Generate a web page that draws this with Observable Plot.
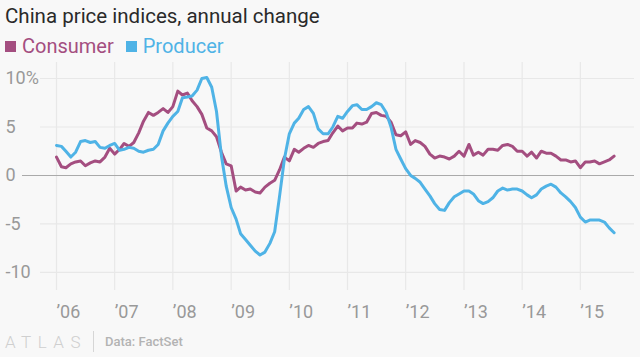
<!DOCTYPE html>
<html><head><meta charset="utf-8">
<script src="https://cdn.jsdelivr.net/npm/d3@7"></script>
<script src="https://cdn.jsdelivr.net/npm/@observablehq/plot@0.6"></script>
<style>
html,body{margin:0;padding:0;background:#f8f8f8;}
body{width:640px;height:357px;overflow:hidden;position:relative;font-family:Roboto,"Liberation Sans",sans-serif;}
#title{position:absolute;left:5px;top:4px;font-size:20.5px;color:#2a2a2a;white-space:nowrap;}
#legend{position:absolute;left:5px;top:34px;font-size:20px;white-space:nowrap;}
#legend span.item{margin-right:12px;}
#legend span.sw{display:inline-block;width:11px;height:11px;margin-right:6px;vertical-align:1px;}
#chart{position:absolute;left:0;top:58px;}
#footer{position:absolute;left:5px;top:331px;white-space:nowrap;}
#logo{font-size:17px;letter-spacing:6.5px;color:#cfcfcf;font-weight:300;vertical-align:middle;}
#sep{display:inline-block;width:1px;height:21px;background:#d6d6d6;margin:0 11px 0 6px;vertical-align:middle;}
#src{font-size:13px;color:#b3b3b3;font-weight:500;vertical-align:middle;}
</style></head>
<body>
<div id="title">China price indices, annual change</div>
<div id="legend"></div>
<div id="chart"></div>
<div id="footer"><span id="logo">ATLAS</span><span id="sep"></span><span id="src">Data: FactSet</span></div>
<script>
const seriesNames = ["Consumer", "Producer"];
const seriesColors = ["#a44e80", "#4fb3e6"];
// Monthly, Jan 2006 .. Aug 2015
const consumer = [
  1.9, 0.9, 0.8, 1.2, 1.4, 1.5, 1.0, 1.3, 1.5, 1.4, 1.9, 2.8,
  2.2, 2.7, 3.3, 3.0, 3.4, 4.4, 5.6, 6.5, 6.2, 6.5, 6.9, 6.5,
  7.1, 8.7, 8.3, 8.5, 7.7, 7.1, 6.3, 4.9, 4.6, 4.0, 2.4, 1.2,
  1.0, -1.6, -1.2, -1.5, -1.4, -1.7, -1.8, -1.2, -0.8, -0.5, 0.6, 1.9,
  1.5, 2.7, 2.4, 2.8, 3.1, 2.9, 3.3, 3.5, 3.6, 4.4, 5.1, 4.6,
  4.9, 4.9, 5.4, 5.3, 5.5, 6.4, 6.5, 6.2, 6.1, 5.5, 4.2, 4.1,
  4.5, 3.2, 3.6, 3.4, 3.0, 2.2, 1.8, 2.0, 1.9, 1.7, 2.0, 2.5,
  2.0, 3.2, 2.1, 2.4, 2.1, 2.7, 2.7, 2.6, 3.1, 3.2, 3.0, 2.5,
  2.5, 2.0, 2.4, 1.8, 2.5, 2.3, 2.3, 2.0, 1.6, 1.6, 1.4, 1.5,
  0.8, 1.4, 1.4, 1.5, 1.2, 1.4, 1.6, 2.0
];
const producer = [
  3.1, 3.0, 2.5, 1.9, 2.4, 3.5, 3.6, 3.4, 3.5, 2.9, 2.8, 3.1,
  3.3, 2.6, 2.7, 2.9, 2.8, 2.5, 2.4, 2.6, 2.7, 3.2, 4.6, 5.4,
  6.1, 6.6, 8.0, 8.1, 8.2, 8.8, 10.0, 10.1, 9.1, 6.6, 2.0, -1.1,
  -3.3, -4.5, -6.0, -6.6, -7.2, -7.8, -8.2, -7.9, -7.0, -5.8, -2.1, 1.7,
  4.3, 5.4, 5.9, 6.8, 7.1, 6.4, 4.8, 4.3, 4.3, 5.0, 6.1, 5.9,
  6.6, 7.2, 7.3, 6.8, 6.8, 7.1, 7.5, 7.3, 6.5, 5.0, 2.7, 1.7,
  0.7, 0.0, -0.3, -0.7, -1.4, -2.1, -2.9, -3.5, -3.6, -2.8, -2.2, -1.9,
  -1.6, -1.6, -1.9, -2.6, -2.9, -2.7, -2.3, -1.6, -1.3, -1.5, -1.4, -1.4,
  -1.6, -2.0, -2.3, -2.0, -1.4, -1.1, -0.9, -1.2, -1.8, -2.2, -2.7, -3.3,
  -4.3, -4.8, -4.6, -4.6, -4.6, -4.8, -5.4, -5.9
];
const yTicks = [-10, -5, 0, 5, 10];
const yTickLabels = ["-10", "-5", "0", "5", "10%"];
const xYears = [2006, 2007, 2008, 2009, 2010, 2011, 2012, 2013, 2014, 2015];
const xTickLabels = ["’06", "’07", "’08", "’09", "’10", "’11", "’12", "’13", "’14", "’15"];

const months = d3.utcMonth.range(new Date(Date.UTC(2006, 0, 1)), new Date(Date.UTC(2015, 8, 1)));
const rows = [];
months.forEach((d, i) => {
  rows.push({date: d, value: consumer[i], series: "Consumer"});
  rows.push({date: d, value: producer[i], series: "Producer"});
});
const yearDates = xYears.map(y => new Date(Date.UTC(y, 0, 1)));

const legend = document.getElementById("legend");
seriesNames.forEach((n, i) => {
  const s = document.createElement("span");
  s.className = "item";
  s.style.color = seriesColors[i];
  s.innerHTML = `<span class="sw" style="background:${seriesColors[i]}"></span>${n}`;
  legend.appendChild(s);
});

const chart = Plot.plot({
  width: 640, height: 270,
  marginTop: 4, marginBottom: 38, marginLeft: 40, marginRight: 6,
  style: {background: "transparent", fontFamily: "Roboto, 'Liberation Sans', sans-serif", fontSize: "18px", color: "#999"},
  x: {type: "utc", domain: [new Date(Date.UTC(2006, 0, 1)), new Date(Date.UTC(2016, 0, 1))], range: [56, 638]},
  y: {domain: [-11.86, 11.65]},
  color: {domain: seriesNames, range: seriesColors},
  marks: [
    Plot.gridY(yTicks.filter(d => d !== 0), {stroke: "#e8e8e8", strokeOpacity: 1, strokeWidth: 1.2}),
    Plot.gridX(yearDates, {stroke: "#e8e8e8", strokeOpacity: 1, strokeWidth: 1.2}),
    Plot.ruleY([0], {stroke: "#aaaaaa", strokeWidth: 1.2, insetLeft: -18}),
    Plot.axisY(yTicks, {label: null, tickSize: 0, tickPadding: 3, textAnchor: "start", dx: -32, fill: "#999",
      tickFormat: d => yTickLabels[yTicks.indexOf(d)]}),
    Plot.axisX(yearDates, {label: null, tickSize: 0, tickPadding: 15, textAnchor: "start", fill: "#999",
      tickFormat: d => xTickLabels[xYears.indexOf(d.getUTCFullYear())]}),
    Plot.line(rows, {x: "date", y: "value", z: "series", stroke: "series", strokeWidth: 3, strokeLinejoin: "round"})
  ]
});
document.getElementById("chart").appendChild(chart);
</script>
</body></html>
